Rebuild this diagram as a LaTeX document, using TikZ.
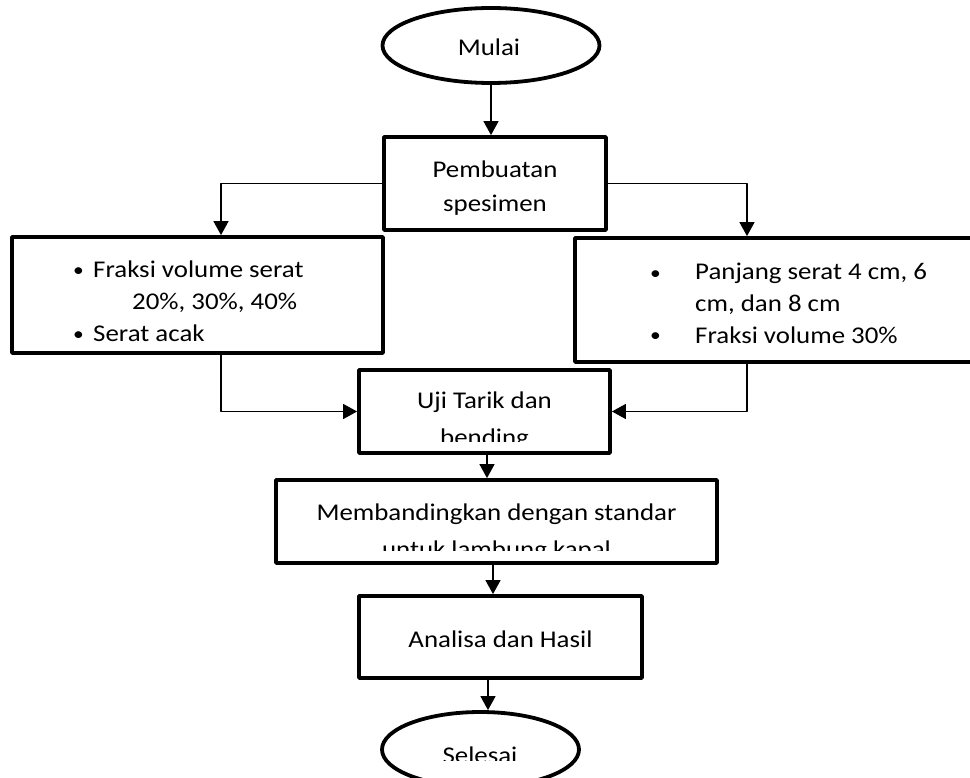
\documentclass[tikz,border=0pt]{standalone}
\usepackage{fontspec}
\setmainfont{Carlito}[FakeStretch=1.12]
\usetikzlibrary{shapes.geometric, arrows.meta}

\newcommand{\dotitem}{\raisebox{1pt}{\scalebox{0.8}{\textbullet}}}

\begin{document}
\begin{tikzpicture}[x=1pt, y=-1pt, line join=round,
    >={Triangle[width=15pt,length=14pt]},
    frame/.style={draw, line width=3.8pt, inner sep=0pt},
    oval/.style={frame, ellipse},
    link/.style={->, line width=1.4pt},
    txt/.style={inner sep=0pt, font=\fontsize{24}{32}\selectfont}]

    % page
    \path[use as bounding box, clip] (0,0) rectangle (970,778);
    \fill[white] (0,0) rectangle (970,778);

    % start and end
    \node[oval, minimum width=217, minimum height=75] (mulai) at (491,45.5) {};
    \node[oval, minimum width=197, minimum height=75] (selesai) at (480.5,749.5) {};

    % the boxes
    \node[frame, minimum width=222, minimum height=93] (pembuatan) at (495,183.5) {};
    \node[frame, minimum width=371, minimum height=116] (fraksi) at (197.5,295) {};
    \node[frame, minimum width=405, minimum height=124] (panjang) at (777.5,300) {};
    \node[frame, minimum width=251, minimum height=83] (uji) at (484.5,411.5) {};
    \node[frame, minimum width=441, minimum height=83] (banding) at (496.5,521.5) {};
    \node[frame, minimum width=283, minimum height=82] (analisa) at (500.5,637) {};

    % text in the boxes
    \node[txt, anchor=base] (tmulai) at (489,56) {Mulai};
    \node[txt, anchor=base, font=\fontsize{24}{34}\selectfont] (tpembuatan) at (495,178)
        {\begin{tabular}[t]{@{}c@{}}Pembuatan\\spesimen\end{tabular}};
    \node[txt, anchor=base west] (tfraksi) at (73,278)
        {\begin{tabular}[t]{@{}p{20pt}@{}l@{}}
            \dotitem & Fraksi volume serat\\
             & \hspace*{39pt}20\%, 30\%, 40\%\\
            \dotitem & Serat acak
        \end{tabular}};
    \node[txt, anchor=base west, font=\fontsize{24}{31.5}\selectfont] (tpanjang) at (650,280)
        {\begin{tabular}[t]{@{}p{45pt}@{}l@{}}
            \dotitem & Panjang serat 4 cm, 6\\
             & cm, dan 8 cm\\
            \dotitem & Fraksi volume 30\%
        \end{tabular}};
    \begin{scope}
        \clip (359,372) rectangle (610,441);
        \node[txt, anchor=base, font=\fontsize{24}{37}\selectfont] (tuji) at (484.5,408)
            {\begin{tabular}[t]{@{}c@{}}Uji Tarik dan\\bending\end{tabular}};
    \end{scope}
    \begin{scope}
        \clip (278,482) rectangle (715,550);
        \node[txt, anchor=base, font=\fontsize{24}{37}\selectfont] (tbanding) at (496.5,520)
            {\begin{tabular}[t]{@{}c@{}}Membandingkan dengan standar\\untuk lambung kapal\end{tabular}};
    \end{scope}
    \node[txt, anchor=base] (tanalisa) at (500.5,647) {Analisa dan Hasil};
    \begin{scope}
        \clip (384,714) rectangle (577,760);
        \node[txt, anchor=base] (tselesai) at (480,763) {Selesai};
    \end{scope}

    % the connectors
    \draw[link] (mulai.south) -- (mulai.south |- pembuatan.north);
    \draw[link] (pembuatan.west) -| ([xshift=23.5pt]fraksi.north);
    \draw[link] (pembuatan.east) -| ([xshift=-30.5pt]panjang.north);
    \draw[link] ([xshift=23.5pt]fraksi.south) |- (uji.west);
    \draw[link] ([xshift=-30.5pt]panjang.south) |- (uji.east);
    \draw[link] ([xshift=2.5pt]uji.south) -- ([xshift=2.5pt]uji.south |- banding.north);
    \draw[link] ([xshift=-3.5pt]banding.south) -- ([xshift=-3.5pt]banding.south |- analisa.north);
    \draw[link] ([xshift=-12.5pt]analisa.south) -- ([xshift=-12.5pt]analisa.south |- selesai.north);
\end{tikzpicture}
\end{document}
